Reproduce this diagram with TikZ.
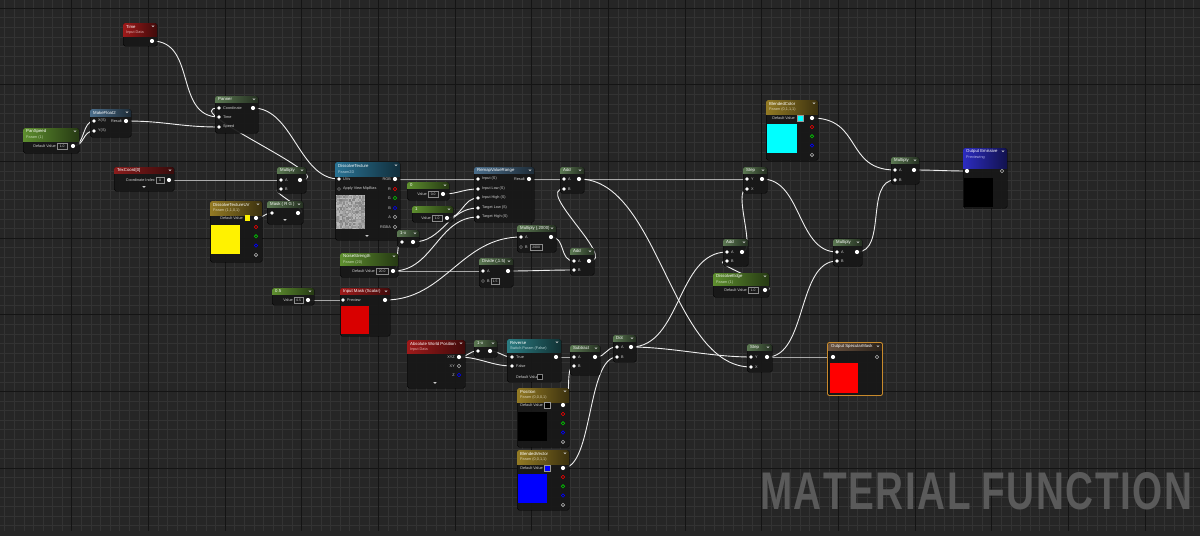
\documentclass[tikz,border=0pt]{standalone}
\usepackage{fontspec}
\setmainfont{Liberation Sans}
\usepackage{graphicx}
\usetikzlibrary{calc}
\definecolor{bg}{HTML}{262626}
\definecolor{minorc}{HTML}{333333}
\definecolor{majorc}{HTML}{141414}
\definecolor{nodebg}{HTML}{181818}
\definecolor{hred}{HTML}{9E1A1A}
\definecolor{hdred}{HTML}{8A1C1C}
\definecolor{hgreen}{HTML}{5E8F2F}
\definecolor{hop}{HTML}{5B7852}
\definecolor{hblue}{HTML}{4A6D8A}
\definecolor{hteal}{HTML}{2A7394}
\definecolor{hgold}{HTML}{937A24}
\definecolor{hrev}{HTML}{2B7C82}
\definecolor{hbrown}{HTML}{6A5340}
\definecolor{hemis}{HTML}{2C2CC0}
\definecolor{lblc}{HTML}{D0D0D0}
\definecolor{wirec}{HTML}{EEEEEE}
\definecolor{cyanp}{HTML}{00FFFF}
\definecolor{selc}{HTML}{C88A2C}
\definecolor{titlec}{HTML}{5A5A5A}
\pgfdeclarelayer{bgl}
\pgfdeclarelayer{wl}
\pgfsetlayers{bgl,wl,main}
\newcount\lblcount
\tikzset{
  autoname/.code={\global\advance\lblcount by 1\relax\pgfkeysalso{name=t\the\lblcount}},
  body/.style={fill=nodebg, fill opacity=0.93, draw=black, line width=0.4pt, rounded corners=1.8pt},
  T/.style={autoname, inner sep=0, anchor=west, text=white, font=\fontsize{4.3}{5}\selectfont},
  S/.style={autoname, inner sep=0, anchor=west, text=#1!35!white, font=\fontsize{3.8}{4.5}\selectfont},
  L/.style={autoname, inner sep=0, text=lblc, font=\fontsize{3.8}{4.5}\selectfont},
  VB/.style={autoname, inner sep=0, draw=white!55!black, fill=black!90, line width=0.3pt, text=lblc,
     minimum height=5.5pt, font=\fontsize{3.4}{4}\selectfont, anchor=west},
  po/.style={circle, fill=white, inner sep=0, minimum size=4.2pt},
  pi/.style={circle, fill=white, inner sep=0, minimum size=3.6pt},
  pu/.style={circle, fill=black!80, draw=white!45!black, line width=0.4pt, inner sep=0, minimum size=3.4pt},
  pc/.style={circle, draw=#1, line width=0.6pt, inner sep=0, minimum size=3.4pt},
  wire/.style={draw=wirec, line width=0.9pt},
}
\newcommand\uen[9]{%
  \node[body, anchor=north west, inner sep=0, minimum width={(#4-#2)*1pt}, minimum height={(#5-#3)*1pt}] (#1) at (#2,#3) {};
  \begin{scope}
    \clip[rounded corners=1.8pt] (#2,#3) rectangle (#4,#5);
    \shade[left color=#7, right color=#7!40!black] (#2,#3) rectangle (#4,#6);
  \end{scope}
  \ifx&#9&\node[T] at ({#2+3},{(#3+#6)/2}) {#8};%
  \else\node[T] at ({#2+3},{#3+3.6}) {#8};\node[S=#7] at ({#2+3},{#3+10}) {#9};\fi
  \fill[white!80!black] ({#4-5.6},{#3+2.6}) -- ({#4-2.4},{#3+2.6}) -- ({#4-4},{#3+4.2}) -- cycle;
}
\newcommand\pin[4]{\node[#4] (#1) at (#2,#3) {};}
\newcommand\lab[3]{\node[L, anchor=west] at (#1,#2) {#3};}
\newcommand\labr[3]{\node[L, anchor=east] at (#1,#2) {#3};}
\newcommand\valb[4]{\node[VB, minimum width={(#3-#1)*1pt}] at (#1,#2) {#4};}
\newcommand\chev[2]{\fill[white!80!black] ({#1-1.6},{#2-0.8}) -- ({#1+1.6},{#2-0.8}) -- (#1,{#2+0.9}) -- cycle;}
\newcommand\wire[3][25]{\draw[wire] (#2.center) .. controls +(#1,0) and +(-#1,0) .. (#3.center);}
\newcommand\comps[3]{% x, y of first component
  \pin{#3r}{#1}{#2}{pc=red}
  \pin{#3g}{#1}{#2+9.3}{pc=green!80!black}
  \pin{#3b}{#1}{#2+18.6}{pc=blue}
  \pin{#3a}{#1}{#2+27.9}{pc=white!70!black}}
\begin{document}
\begin{tikzpicture}[x=1pt,y=-1pt]
\useasboundingbox (0,0) rectangle (1200,536);
\begin{pgfonlayer}{bgl}
\fill[bg] (0,0) rectangle (1200,536);
\foreach \i in {0,...,125} \draw[minorc, line width=0.5pt] ({4.6+9.5833*\i},0) -- ({4.6+9.5833*\i},536);
\foreach \i in {0,...,56} \draw[minorc, line width=0.5pt] (0,{-1.58+9.5833*\i}) -- (1200,{-1.58+9.5833*\i});
\foreach \i in {0,...,16} \draw[majorc, line width=1pt] ({-4.97+76.667*\i},0) -- ({-4.97+76.667*\i},536);
\foreach \i in {0,...,7} \draw[majorc, line width=1pt] (0,{8+76.667*\i}) -- (1200,{8+76.667*\i});
\fill[black!85] (0,531) rectangle (1200,536);
\node[autoname, anchor=south west, inner sep=0, text=titlec] at (760,510)
  {\resizebox{432pt}{37pt}{\bfseries M\kern0.04em A\kern0.04em T\kern0.04em E\kern0.04em R\kern0.04em I\kern0.04em A\kern0.04em L F\kern0.04em U\kern0.04em N\kern0.04em C\kern0.04em T\kern0.04em I\kern0.04em O\kern0.04em N}};
\end{pgfonlayer}

% ---------- nodes ----------
\uen{time}{123}{23}{157}{46}{36}{hred}{Time}{Input Data}
\pin{time-o}{152}{41}{po}

\uen{panspeed}{23}{128}{79}{153}{141}{hgreen}{PanSpeed}{Param (1)}
\labr{56}{146}{Default Value}\valb{57}{146}{67}{1.0}
\pin{panspeed-o}{73}{146}{po}

\uen{mf2}{90}{109}{131}{137}{116}{hblue}{MakeFloat2}{}
\pin{mf2-x}{94}{121}{pi}\lab{98}{121}{X(S)}
\pin{mf2-y}{94}{131}{pi}\lab{98}{131}{Y(S)}
\labr{122}{121}{Result}\pin{mf2-o}{126}{121}{po}

\uen{panner}{215}{96}{258}{133}{102}{hop}{Panner}{}
\pin{panner-co}{219}{108}{pi}\lab{223}{108}{Coordinate}
\pin{panner-t}{219}{117}{pi}\lab{223}{117}{Time}
\pin{panner-s}{219}{127}{pi}\lab{223}{127}{Speed}
\pin{panner-o}{253}{108}{po}

\uen{texcoord}{114}{167}{174}{191}{173}{hdred}{TexCoord[0]}{}
\labr{155}{180}{Coordinate Index}\valb{156}{180}{164}{0}
\pin{texcoord-o}{169}{180}{po}\chev{144}{187}

\uen{mul1}{277}{167}{306}{193}{173}{hop}{Multiply}{}
\pin{mul1-a}{281}{180}{pi}\lab{285}{180}{A}
\pin{mul1-b}{281}{189}{pi}\lab{285}{189}{B}
\pin{mul1-o}{300}{180}{po}

\uen{dtuv}{210}{201}{262}{262}{215}{hgold}{DissolveTextureUV}{Param (1,1,0,1)}
\labr{243}{218}{Default Value}
\fill[yellow] (245,215) rectangle (250,221);
\pin{dtuv-o}{256}{218}{po}\comps{256}{227}{dtuv}
\fill[yellow] (211,225) rectangle (240,254);

\uen{maskrg}{267}{201}{303}{224}{207}{hop}{Mask ( R G )}{}
\pin{maskrg-i}{272}{213}{pi}\pin{maskrg-o}{298}{213}{po}\chev{285}{220}

\uen{dtex}{335}{162}{400}{240}{176}{hteal}{DissolveTexture}{Param2D}
\pin{dtex-uv}{339}{179}{pi}\lab{343}{179}{UVs}
\pin{dtex-mip}{339}{189}{pu}\lab{343}{189}{Apply View MipBias}
\labr{391}{179}{RGB}\labr{391}{189}{R}\labr{391}{198}{G}\labr{391}{208}{B}\labr{391}{217}{A}\labr{391}{227}{RGBA}
\pin{dtex-o}{395}{179}{po}
\pin{dtex-r}{395}{189}{pc=red}\pin{dtex-g}{395}{198}{pc=green!80!black}\pin{dtex-b}{395}{208}{pc=blue}
\pin{dtex-a}{395}{217}{pc=white!70!black}\pin{dtex-rgba}{395}{227}{pc=white!70!black}
\begin{scope}
\pgfmathsetseed{7}
\fill[white!62!black] (336,195) rectangle (365,229);
\foreach \i in {0,...,19} \foreach \j in {0,...,22} {
  \pgfmathsetmacro\g{48+30*rnd}
  \fill[white!\g!black, fill opacity=0.8] ({336+1.45*\i},{195+1.478*\j}) rectangle ++(1.45,1.478);}
\end{scope}
\chev{367}{236}

\uen{c0}{407}{182}{449}{200}{188}{hgreen}{0}{}
\labr{427}{194}{Value}\valb{428}{194}{438}{0.0}\pin{c0-o}{443}{194}{po}

\uen{c1}{412}{206}{453}{222}{212}{hgreen}{1}{}
\labr{431}{218}{Value}\valb{432}{218}{442}{1.0}\pin{c1-o}{447}{218}{po}

\uen{remap}{474}{167}{534}{222}{173}{hblue}{RemapValueRange}{}
\pin{remap-in}{478}{179}{pi}\lab{482}{179}{Input (S)}
\pin{remap-lo}{478}{189}{pi}\lab{482}{189}{Input Low (S)}
\pin{remap-hi}{478}{198}{pi}\lab{482}{198}{Input High (S)}
\pin{remap-tlo}{478}{208}{pi}\lab{482}{208}{Target Low (S)}
\pin{remap-thi}{478}{217}{pi}\lab{482}{217}{Target High (S)}
\labr{525}{179}{Result}\pin{remap-o}{529}{179}{po}

\uen{om1}{397}{230}{419}{247}{236}{hop}{1-x}{}
\pin{om1-i}{402}{242}{pi}\pin{om1-o}{413}{242}{po}

\uen{noise}{340}{253}{398}{277}{265}{hgreen}{NoiseStrength}{Param (20)}
\labr{375}{271}{Default Value}\valb{376}{271}{388}{20.0}\pin{noise-o}{393}{271}{po}

\uen{c05}{272}{288}{314}{305}{294}{hgreen}{0.5}{}
\labr{293}{300}{Value}\valb{294}{300}{303}{0.5}\pin{c05-o}{308}{300}{po}

\uen{imask}{340}{288}{390}{336}{294}{hred}{Input Mask (Scalar)}{}
\pin{imask-pv}{343}{300}{pi}\lab{347}{300}{Preview}\pin{imask-o}{385}{300}{po}
\fill[red!85!black] (341,306) rectangle (369,334);

\uen{mul2k}{517}{225}{556}{252}{231}{hop}{Multiply (,2000)}{}
\pin{mul2k-a}{521}{237}{pi}\lab{525}{237}{A}
\pin{mul2k-b}{521}{247}{pu}\lab{525}{247}{B}\valb{530}{247}{542}{2000}
\pin{mul2k-o}{551}{237}{po}

\uen{div}{479}{258}{513}{287}{264}{hop}{Divide (,1.5)}{}
\pin{div-a}{483}{271}{pi}\lab{487}{271}{A}
\pin{div-b}{483}{281}{pu}\lab{487}{281}{B}\valb{491}{281}{499}{1.5}
\pin{div-o}{508}{271}{po}

\uen{add2}{570}{248}{594}{275}{254}{hop}{Add}{}
\pin{add2-a}{574}{261}{pi}\lab{578}{261}{A}
\pin{add2-b}{574}{270}{pi}\lab{578}{270}{B}
\pin{add2-o}{589}{261}{po}

\uen{add1}{560}{167}{584}{193}{173}{hop}{Add}{}
\pin{add1-a}{564}{179}{pi}\lab{568}{179}{A}
\pin{add1-b}{564}{189}{pi}\lab{568}{189}{B}
\pin{add1-o}{579}{179}{po}

\uen{step1}{743}{167}{767}{193}{173}{hop}{Step}{}
\pin{step1-y}{747}{179}{pi}\lab{751}{179}{Y}
\pin{step1-x}{747}{189}{pi}\lab{751}{189}{X}
\pin{step1-o}{762}{179}{po}

\uen{awp}{407}{340}{465}{388}{353}{hred}{Absolute World Position}{Input Data}
\labr{455}{357}{XYZ}\labr{455}{366}{XY}\labr{455}{375}{Z}
\pin{awp-o}{459}{357}{po}\pin{awp-xy}{459}{366}{pc=white!70!black}\pin{awp-z}{459}{375}{pc=blue}
\chev{435}{383}

\uen{om2}{474}{340}{497}{357}{346}{hop}{1-x}{}
\pin{om2-i}{478}{351}{pi}\pin{om2-o}{490}{351}{po}

\uen{rev}{507}{339}{561}{382}{352}{hrev}{Reverse}{Switch Param (False)}
\pin{rev-t}{512}{357}{pi}\lab{516}{357}{True}
\pin{rev-f}{512}{366}{pi}\lab{516}{366}{False}
\lab{516}{377}{Default Value}
\draw[white!50!black, line width=0.3pt, fill=black] (537,374.5) rectangle (542,379.5);
\pin{rev-o}{556}{357}{po}

\uen{sub}{570}{345}{600}{375}{351}{hop}{Subtract}{}
\pin{sub-a}{574}{357}{pi}\lab{578}{357}{A}
\pin{sub-b}{574}{366}{pi}\lab{578}{366}{B}
\pin{sub-o}{595}{357}{po}

\uen{pos}{517}{388}{569}{447}{402}{hgold}{Position}{Param (0,0,0,1)}
\labr{543}{405}{Default Value}
\draw[white!60!black, line width=0.3pt, fill=black] (544.5,402) rectangle (550.5,408);
\pin{pos-o}{563}{405}{po}\comps{563}{414}{pos}
\fill[black] (518,412) rectangle (547,441);

\uen{bvec}{517}{450}{569}{510}{464}{hgold}{BlendedVector}{Param (0,0,1,1)}
\labr{543}{468}{Default Value}
\draw[white!60!black, line width=0.3pt, fill=blue] (544.5,465) rectangle (550.5,471);
\pin{bvec-o}{563}{468}{po}\comps{563}{477}{bvec}
\fill[blue] (518,474) rectangle (547,503);

\uen{dot}{613}{335}{636}{362}{341}{hop}{Dot}{}
\pin{dot-a}{617}{347}{pi}\lab{621}{347}{A}
\pin{dot-b}{617}{357}{pi}\lab{621}{357}{B}
\pin{dot-o}{631}{347}{po}

\uen{add3}{723}{239}{748}{266}{245}{hop}{Add}{}
\pin{add3-a}{727}{252}{pi}\lab{731}{252}{A}
\pin{add3-b}{727}{261}{pi}\lab{731}{261}{B}
\pin{add3-o}{742}{252}{po}

\uen{edge}{713}{273}{769}{297}{285}{hgreen}{DissolveEdge}{Param (1)}
\labr{747}{290}{Default Value}\valb{748}{290}{758}{1.0}\pin{edge-o}{765}{290}{po}

\uen{mul3}{833}{239}{862}{266}{245}{hop}{Multiply}{}
\pin{mul3-a}{837}{252}{pi}\lab{841}{252}{A}
\pin{mul3-b}{837}{261}{pi}\lab{841}{261}{B}
\pin{mul3-o}{857}{252}{po}

\uen{step2}{747}{344}{772}{372}{350}{hop}{Step}{}
\pin{step2-y}{751}{357}{pi}\lab{755}{357}{Y}
\pin{step2-x}{751}{367}{pi}\lab{755}{367}{X}
\pin{step2-o}{767}{357}{po}

\uen{spec}{828}{343}{882}{395}{350}{hbrown}{Output SpecularMask}{}
\draw[selc, line width=0.9pt, rounded corners=2pt] (827.5,342.5) rectangle (882.5,395.5);
\pin{spec-i}{833}{357}{po}\pin{spec-o}{877}{357}{pc=white!70!black}
\fill[red] (830,363) rectangle (858,393);

\uen{bcol}{766}{100}{818}{160}{114}{hgold}{BlendedColor}{Param (0,1,1,1)}
\labr{795}{118}{Default Value}
\draw[white!60!black, line width=0.3pt, fill=cyanp] (797,115) rectangle (803,121);
\pin{bcol-o}{812}{118}{po}\comps{812}{127}{bcol}
\fill[cyanp] (767,124) rectangle (797,153);

\uen{mul4}{891}{157}{919}{184}{163}{hop}{Multiply}{}
\pin{mul4-a}{895}{170}{pi}\lab{899}{170}{A}
\pin{mul4-b}{895}{180}{pi}\lab{899}{180}{B}
\pin{mul4-o}{914}{170}{po}

\uen{emis}{963}{148}{1007}{208}{168}{hemis}{Output Emissive}{Previewing}
\pin{emis-i}{967}{171}{po}\pin{emis-o}{1002}{171}{pc=white!70!black}
\fill[black] (964,178) rectangle (993,207);

% ---------- wires ----------
\begin{pgfonlayer}{wl}
\wire[45]{time-o}{panner-t}
\wire[12]{panspeed-o}{mf2-x}
\wire[12]{panspeed-o}{mf2-y}
\wire[40]{mf2-o}{panner-s}
\wire[40]{texcoord-o}{mul1-a}
\wire[18]{maskrg-o}{mul1-b}
\wire[8]{dtuv-o}{maskrg-i}
\wire[45]{mul1-o}{panner-co}
\wire[40]{panner-o}{dtex-uv}
\wire[30]{dtex-o}{remap-in}
\wire[15]{c0-o}{remap-lo}
\wire[15]{c1-o}{remap-hi}
\wire[30]{om1-o}{remap-tlo}
\wire[8]{noise-o}{om1-i}
\wire[30]{noise-o}{div-a}
\wire[40]{noise-o}{remap-thi}
\wire[15]{c05-o}{imask-pv}
\wire[60]{imask-o}{mul2k-a}
\wire[15]{mul2k-o}{add2-a}
\wire[25]{div-o}{add2-b}
\wire[30]{add2-o}{add1-b}
\wire[15]{remap-o}{add1-a}
\wire[60]{add1-o}{step1-y}
\wire[80]{add1-o}{step2-x}
\wire[10]{awp-o}{om2-i}
\wire[20]{awp-o}{rev-f}
\wire[10]{om2-o}{rev-t}
\wire[8]{rev-o}{sub-a}
\wire[10]{pos-o}{sub-b}
\wire[12]{sub-o}{dot-a}
\wire[30]{bvec-o}{dot-b}
\wire[50]{dot-o}{add3-a}
\wire[40]{dot-o}{step2-y}
\wire[25]{edge-o}{add3-b}
\wire[15]{add3-o}{step1-x}
\wire[40]{step1-o}{mul3-a}
\wire[40]{step2-o}{mul3-b}
\wire[20]{step2-o}{spec-i}
\wire[30]{mul3-o}{mul4-b}
\wire[50]{bcol-o}{mul4-a}
\wire[20]{mul4-o}{emis-i}
\end{pgfonlayer}
\end{tikzpicture}
\end{document}
